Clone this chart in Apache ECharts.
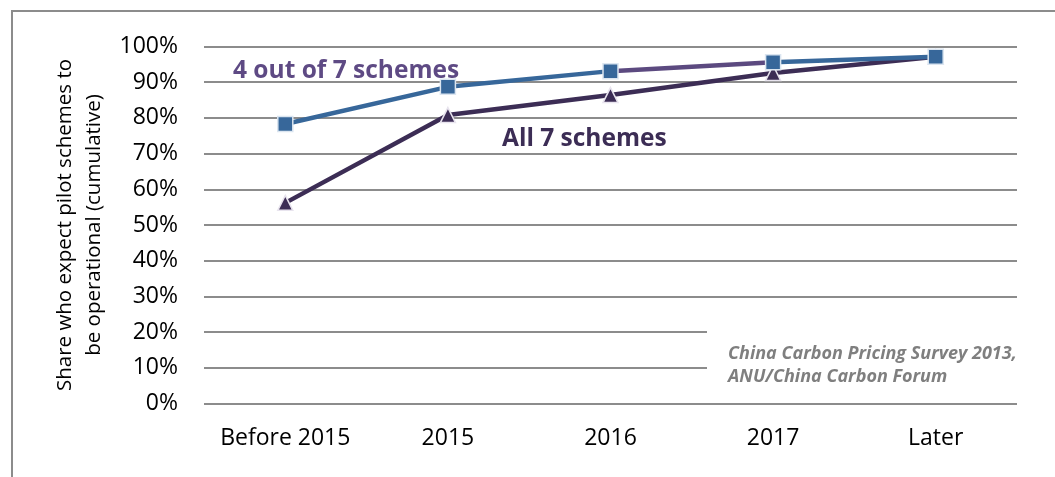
<!DOCTYPE html>
<html>
<head>
<meta charset="utf-8">
<script src="https://cdn.jsdelivr.net/npm/echarts@6/dist/echarts.min.js"></script>
<style>
  html, body { margin: 0; padding: 0; background: #fff; }
  #grf { width: 1055px; height: 477px; }
</style>
</head>
<body>
<div id="grf"></div>
<script>
// categorias e valores (cumulativo, %)
var categorias = ['Before 2015', '2015', '2016', '2017', 'Later'];
var quatroDeSete = [78.3, 88.7, 93.1, 95.6, 97.1];
var todasSete = [56.2, 80.8, 86.4, 92.6, 97.1];
var ticksY = [0, 10, 20, 30, 40, 50, 60, 70, 80, 90, 100];

var fonte = '"Open Sans", sans-serif';
var cinza = '#8c8c8c';

var grafico = echarts.init(document.getElementById('grf'));

var opcoes = {
	animation: false,
	grid: {
		left: 204,
		right: 38,
		top: 46.5,
		bottom: 73.5
	},
	xAxis: {
		type: 'category',
		data: categorias,
		boundaryGap: true,
		axisLine: { show: false },
		axisTick: { show: false },
		axisLabel: {
			interval: 0,
			hideOverlap: false,
			color: '#000',
			fontFamily: fonte,
			fontSize: 23,
			margin: 23
		}
	},
	yAxis: {
		type: 'value',
		min: ticksY[0],
		max: ticksY[ticksY.length - 1],
		interval: 10,
		name: 'Share who expect pilot schemes to\nbe operational (cumulative)',
		nameLocation: 'middle',
		nameRotate: 90,
		nameGap: 93,
		nameTextStyle: {
			color: '#000',
			fontFamily: fonte,
			fontSize: 20.5,
			lineHeight: 29
		},
		axisLine: { show: false },
		axisTick: { show: false },
		axisLabel: {
			color: '#000',
			fontFamily: fonte,
			fontSize: 23,
			margin: 26,
			formatter: '{value}%'
		},
		splitLine: {
			lineStyle: { color: cinza, width: 2 }
		}
	},
	// trecho roxo da linha de 4 de 7 (2016 -> 2017)
	visualMap: {
		show: false,
		type: 'piecewise',
		seriesIndex: 1,
		dimension: 0,
		pieces: [
			{ lte: 2, color: '#37679a' },
			{ gt: 2, lt: 3, color: '#5c4a80' },
			{ gte: 3, color: '#37679a' }
		]
	},
	series: [
		{
			name: 'All 7 schemes',
			type: 'line',
			data: todasSete,
			symbol: 'triangle',
			symbolSize: 15,
			lineStyle: { color: '#3c2d55', width: 4.5 },
			itemStyle: { color: '#3c2d55', borderColor: '#e8e4ee', borderWidth: 1.5 }
		},
		{
			name: '4 out of 7 schemes',
			type: 'line',
			data: quatroDeSete,
			symbol: 'rect',
			symbolSize: 15,
			lineStyle: { width: 4.5 },
			itemStyle: { color: '#37679a', borderColor: '#dbe5f0', borderWidth: 1.5 }
		}
	],
	graphic: [
		// moldura
		{
			type: 'polyline',
			shape: { points: [[12, 477], [12, 11], [1055, 11]] },
			style: { stroke: cinza, lineWidth: 2, fill: null },
			silent: true
		},
		{
			type: 'text',
			left: 233,
			top: 59,
			style: {
				text: '4 out of 7 schemes',
				fill: '#5e4a84',
				font: 'bold 24.5px ' + fonte
			}
		},
		{
			type: 'text',
			left: 502,
			top: 127,
			style: {
				text: 'All 7 schemes',
				fill: '#3c2d55',
				font: 'bold 24.5px ' + fonte
			}
		},
		// caixa da fonte
		{
			type: 'rect',
			shape: { x: 707, y: 318, width: 320, height: 76 },
			style: { fill: '#fff' },
			z: 50
		},
		{
			type: 'text',
			left: 728,
			top: 342,
			z: 51,
			style: {
				text: 'China Carbon Pricing Survey 2013,\nANU/China Carbon Forum',
				fill: '#7f7f7f',
				font: 'italic bold 18px ' + fonte,
				lineHeight: 23
			}
		}
	]
};

grafico.setOption(opcoes);
</script>
</body>
</html>
